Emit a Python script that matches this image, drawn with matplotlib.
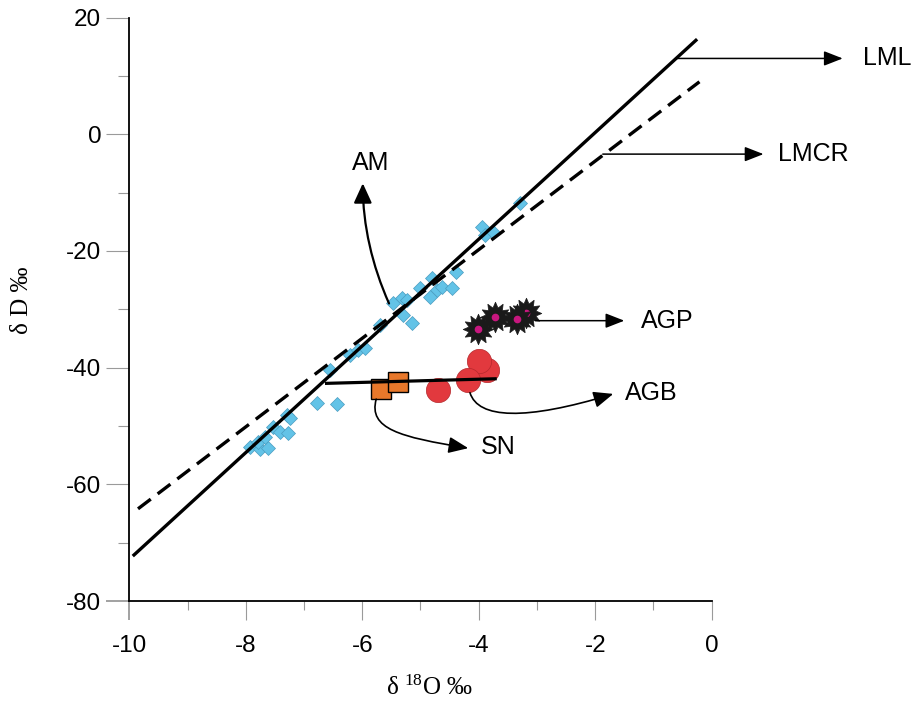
import matplotlib
matplotlib.use('Agg')
import matplotlib.pyplot as plt
from matplotlib.path import Path
from matplotlib.patches import FancyArrowPatch
from matplotlib.ticker import MultipleLocator

plt.rcParams['font.family'] = ['Liberation Sans', 'DejaVu Sans']
plt.rcParams['mathtext.fontset'] = 'custom'
plt.rcParams['mathtext.rm'] = 'Liberation Serif'
plt.rcParams['axes.unicode_minus'] = False

# ---------------- data ----------------
# AM (blue diamonds)
am_x = [-7.93, -7.76, -7.62, -7.79, -7.67, -7.53, -7.41, -7.28, -7.29, -7.24,
        -6.78, -6.43, -6.55, -6.21, -6.07, -5.95, -5.69, -5.47, -5.32, -5.23,
        -5.30, -5.15, -5.01, -4.80, -4.72, -4.84, -4.63, -4.46, -4.39, -3.94,
        -3.89, -3.75, -3.29]
am_y = [-53.6, -53.9, -53.8, -52.7, -51.9, -50.2, -51.0, -51.2, -48.1, -48.6,
        -46.1, -46.2, -40.4, -37.8, -37.0, -36.6, -32.7, -28.9, -28.1, -28.4,
        -31.0, -32.4, -26.3, -24.6, -26.7, -27.9, -26.2, -26.3, -23.6, -15.9,
        -17.3, -16.8, -11.8]
# SN (orange squares)
sn_x = [-5.68, -5.38]
sn_y = [-43.7, -42.4]
# AGB (red circles)
agb_x = [-3.86, -4.00, -4.18, -4.70]
agb_y = [-40.4, -38.9, -42.1, -43.8]
# AGP (black stars)
agp_x = [-3.18, -4.01, -3.72, -3.35]
agp_y = [-30.6, -33.3, -31.4, -31.7]
# reference lines
lml_x = [-9.94, -0.25]
lml_y = [-72.3, 16.3]
lmcr_x = [-9.85, -0.21]
lmcr_y = [-64.2, 9.0]
mix_x = [-6.64, -3.69]
mix_y = [-42.7, -41.9]

x_ticks = [-10, -8, -6, -4, -2, 0]
y_ticks = [-80, -60, -40, -20, 0, 20]

# ---------------- figure ----------------
fig = plt.figure(figsize=(9.13, 7.04), dpi=100)
ax = fig.add_axes([0.1416, 0.1463, 0.6379, 0.8287])
ax.set_xlim(-10, 0)
ax.set_ylim(-80, 20)

ax.plot(am_x, am_y, linestyle='none', marker='D', markersize=7,
        markerfacecolor='#63C3E7', markeredgecolor='#4A9CC0', markeredgewidth=0.5, zorder=2)

ax.plot(lml_x, lml_y, color='black', lw=2.4, solid_capstyle='butt', zorder=3)
ax.plot(lmcr_x, lmcr_y, color='black', lw=2.4, dashes=(4.8, 2.6), zorder=3)

for x, y in zip(sn_x, sn_y):
    ax.plot([x], [y], linestyle='none', marker='s', markersize=14,
            markerfacecolor='#E8782B', markeredgecolor='black', markeredgewidth=1.0, zorder=4)
for x, y in zip(agb_x, agb_y):
    ax.plot([x], [y], linestyle='none', marker='o', markersize=17.5,
            markerfacecolor='#E2393E', markeredgecolor='#B5282C', markeredgewidth=0.5, zorder=4)

star = Path.unit_regular_star(12, 0.64)
for x, y in zip(agp_x, agp_y):
    ax.plot([x], [y], linestyle='none', marker=star, markersize=22,
            markerfacecolor='#1a1a1a', markeredgecolor='#1a1a1a', markeredgewidth=0.5, zorder=4)
    ax.plot([x], [y], linestyle='none', marker='o', markersize=5.5,
            markerfacecolor='#C8177F', markeredgecolor='#C8177F', markeredgewidth=0, zorder=4)

ax.plot(mix_x, mix_y, color='black', lw=2.3, solid_capstyle='butt', zorder=5)

# ---------------- arrows & labels ----------------
def straight_arrow(p0, p1):
    a = FancyArrowPatch(p0, p1, arrowstyle='-|>,head_length=1.15,head_width=0.45',
                        mutation_scale=10, lw=1.1, color='black',
                        shrinkA=0, shrinkB=0, clip_on=False, zorder=6)
    ax.add_patch(a)

def curved_arrow(pts, lw=1.2, hw=0.5):
    path = Path(pts, [Path.MOVETO, Path.CURVE4, Path.CURVE4, Path.CURVE4])
    a = FancyArrowPatch(path=path, arrowstyle=f'-|>,head_length=1.2,head_width={hw}',
                        mutation_scale=10, lw=lw, color='black',
                        clip_on=False, zorder=6, transform=ax.transData)
    ax.add_patch(a)

straight_arrow((-0.60, 13.0), (2.25, 13.0))
straight_arrow((-1.87, -3.4), (0.89, -3.4))
straight_arrow((-3.03, -31.95), (-1.50, -31.95))
curved_arrow([(-5.54, -29.0), (-5.83, -22.5), (-5.99, -15.6), (-5.99, -8.4)], lw=1.6, hw=0.55)
curved_arrow([(-4.15, -44.3), (-4.01, -48.8), (-3.20, -49.1), (-1.69, -44.5)])
curved_arrow([(-5.76, -45.4), (-5.90, -50.5), (-5.35, -51.9), (-4.18, -53.8)])

lab = dict(fontsize=18, va='center', ha='left')
ax.text(2.60, 13.0, 'LML', **lab)
ax.text(1.14, -3.4, 'LMCR', **lab)
ax.text(-1.22, -31.95, 'AGP', **lab)
ax.text(-1.49, -44.3, 'AGB', **lab)
ax.text(-3.97, -53.6, 'SN', **lab)
ax.text(-5.86, -4.9, 'AM', fontsize=18, va='center', ha='center')

# ---------------- axes styling ----------------
for s in ['top', 'right']:
    ax.spines[s].set_visible(False)
for s in ['left', 'bottom']:
    ax.spines[s].set_linewidth(1.3)
    ax.spines[s].set_color('black')

ax.set_xticks(x_ticks)
ax.set_yticks(y_ticks)
ax.xaxis.set_minor_locator(MultipleLocator(1))
ax.yaxis.set_minor_locator(MultipleLocator(10))
ax.tick_params(axis='x', which='major', direction='out', length=13.7, width=0.8,
               color='#9a9a9a', pad=11, labelsize=17.5)
ax.tick_params(axis='x', which='minor', direction='out', length=6.7, width=0.8, color='#9a9a9a')
ax.tick_params(axis='y', which='major', direction='out', length=16.5, width=0.8,
               color='#9a9a9a', pad=3.6, labelsize=17.5)
ax.tick_params(axis='y', which='minor', direction='out', length=8, width=0.8, color='#9a9a9a')
for t in (ax.xaxis.get_major_ticks()[0], ax.yaxis.get_major_ticks()[0]):
    t.tick1line.set_color('black')
    t.tick1line.set_markeredgewidth(1.3)

ax.set_xlabel(r'δ $\mathrm{^{18}}$O ‰', fontsize=18, family='Liberation Serif', va='center')
ax.xaxis.set_label_coords(0.515, -0.149)
ax.set_ylabel('δ D ‰', fontsize=18, family='Liberation Serif', va='center')
ax.yaxis.set_label_coords(-0.184, 0.516)

fig.savefig('out.png', dpi=100)
